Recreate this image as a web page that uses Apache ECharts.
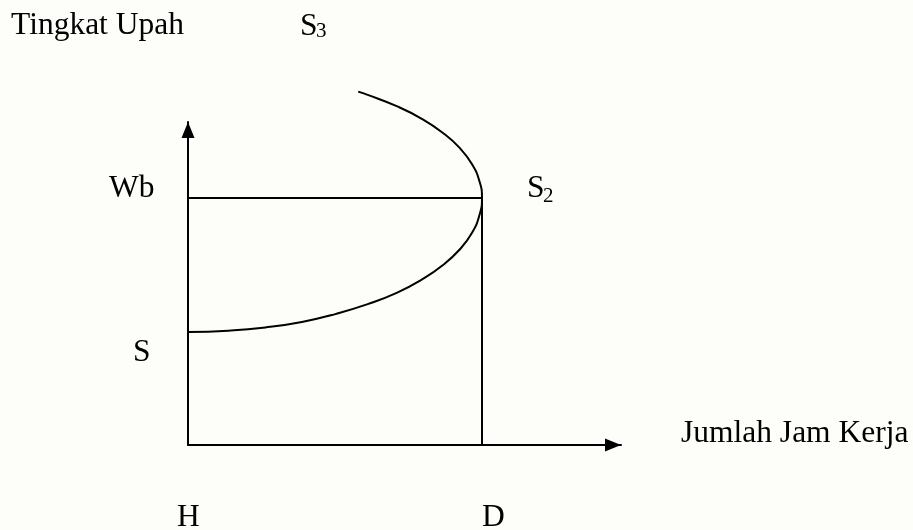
<!DOCTYPE html>
<html>
<head>
<meta charset="utf-8">
<script src="https://cdn.jsdelivr.net/npm/echarts@6/dist/echarts.min.js"></script>
<style>
  html, body { margin: 0; padding: 0; background: #fdfdf9; }
  #chart { width: 913px; height: 530px; }
</style>
</head>
<body>
<div id="chart"></div>
<script>
// kurva penawaran tenaga kerja yang membelok ke belakang
var curveX = [0, 9.3, 17.9, 26.3, 34.2, 41.5, 48.2, 54.0, 58.9, 62.8, 65.6, 67.3, 67.9,
              67.3, 65.6, 62.8, 58.9, 54.0, 48.2, 41.5, 39.3];
var curveY = [35.0, 35.4, 36.4, 38.1, 40.6, 43.6, 47.1, 51.2, 55.7, 60.6, 65.7, 71.1, 76.5,
              81.7, 86.9, 91.9, 96.6, 101.0, 104.9, 108.4, 109.4];

// tingkat upah Wb dan jam kerja D
var wageWb = 76.5;
var hoursD = 67.9;

var axisTitles = ['Tingkat Upah', 'Jumlah Jam Kerja'];
var pointNames = ['Wb', 'S', 'H', 'D'];

var curve = curveX.map(function (x, i) { return [x, curveY[i]] });

var serif = 'Liberation Serif, Times New Roman, serif';
function txt(s, x, y, size) {
    return {
        type: 'text', x: x, y: y, silent: true,
        style: { text: s, font: size + 'px ' + serif, fill: '#000', align: 'left', verticalAlign: 'middle' }
    };
}

var myChart = echarts.init(document.getElementById('chart'));
var axisStyle = {
    show: true, symbol: ['none', 'triangle'], symbolSize: [13, 16], symbolOffset: [0, -8],
    lineStyle: { color: '#000', width: 2 }
};
var option = {
    backgroundColor: '#fdfdf9',
    animation: false,
    grid: { left: 188, top: 122, width: 433, height: 323 },
    xAxis: {
        type: 'value', min: 0, max: 100,
        splitLine: { show: false }, axisTick: { show: false }, axisLabel: { show: false },
        axisLine: axisStyle
    },
    yAxis: {
        type: 'value', min: 0, max: 100,
        splitLine: { show: false }, axisTick: { show: false }, axisLabel: { show: false },
        axisLine: axisStyle
    },
    series: [{
        type: 'line',
        data: curve,
        smooth: 0.5,
        clip: false,
        showSymbol: false,
        lineStyle: { color: '#000', width: 2 }
    }, {
        type: 'line',
        data: [[0, wageWb], [hoursD, wageWb]],
        showSymbol: false,
        lineStyle: { color: '#000', width: 2 }
    }, {
        type: 'line',
        data: [[hoursD, wageWb], [hoursD, 0]],
        showSymbol: false,
        lineStyle: { color: '#000', width: 2 }
    }],
    graphic: [
        txt(axisTitles[0], 11, 26, 31.5),
        txt('S', 300, 27, 31.5),
        txt('3', 316, 31, 21),
        txt(pointNames[0], 109, 189, 31.5),
        txt('S', 527, 189, 31.5),
        txt('2', 543, 196, 21),
        txt(pointNames[1], 133, 353, 31.5),
        txt(pointNames[2], 177, 518, 31.5),
        txt(pointNames[3], 482, 518, 31.5),
        txt(axisTitles[1], 681, 434, 31.5)
    ]
};
myChart.setOption(option);
</script>
</body>
</html>
